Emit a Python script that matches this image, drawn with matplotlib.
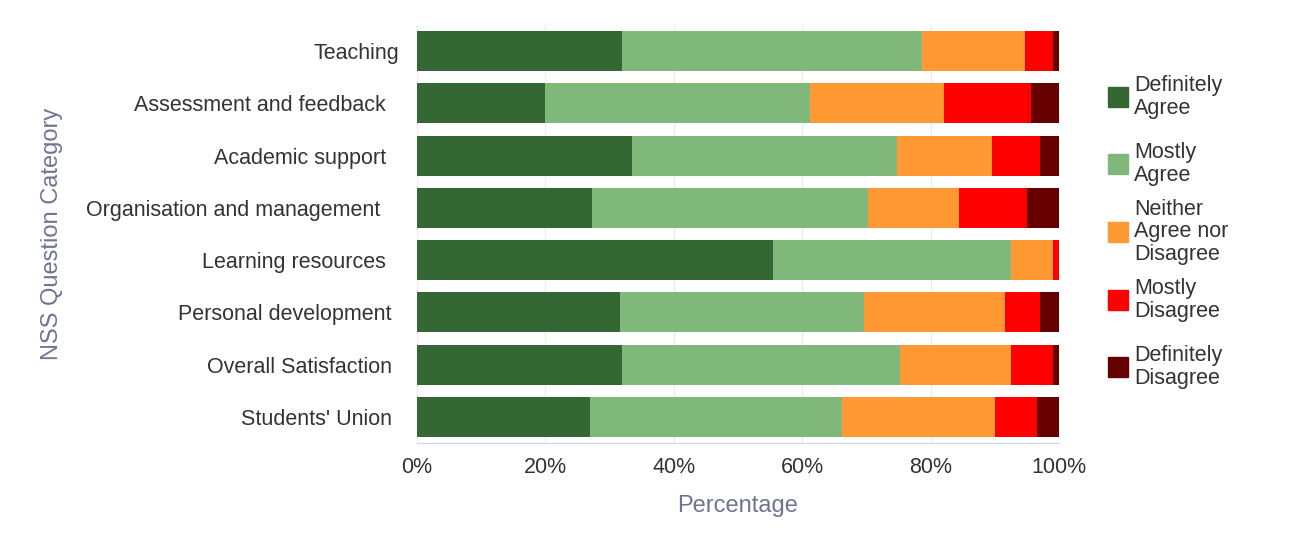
import matplotlib
matplotlib.use("Agg")
import matplotlib.pyplot as plt
from matplotlib.patches import Rectangle
from matplotlib.transforms import ScaledTranslation

categories = ["Teaching", "Assessment and feedback ", "Academic support ",
              "Organisation and management  ", "Learning resources ",
              "Personal development", "Overall Satisfaction", "Students' Union"]
series_names = ["Definitely\nAgree", "Mostly\nAgree", "Neither\nAgree nor\nDisagree",
                "Mostly\nDisagree", "Definitely\nDisagree"]
definitely_agree = [31.9, 19.9, 33.5, 27.3, 55.5, 31.6, 31.9, 27.0]
mostly_agree = [46.8, 41.3, 41.3, 42.9, 37.1, 38.0, 43.3, 39.2]
neither = [16.0, 20.9, 14.7, 14.3, 6.4, 22.0, 17.4, 23.9]
mostly_disagree = [4.4, 13.6, 7.6, 10.5, 1.0, 5.5, 6.4, 6.5]
definitely_disagree = [0.9, 4.3, 2.9, 5.0, 0.0, 2.9, 1.0, 3.4]
colors = ["#346733", "#80b77a", "#ff9933", "#ff0000", "#660000"]
xticks = [0, 20, 40, 60, 80, 100]
xticklabels = ["0%", "20%", "40%", "60%", "80%", "100%"]

series = [definitely_agree, mostly_agree, neither, mostly_disagree, definitely_disagree]

plt.rcParams['font.family'] = ['Liberation Sans', 'DejaVu Sans']
W, H = 1294, 546
fig = plt.figure(figsize=(W / 100, H / 100), dpi=100)
ax = fig.add_axes([417 / W, 1 - 443 / H, (1059 - 417) / W, (443 - 25) / H])

y = list(range(len(categories)))
left = [0.0] * len(categories)
for vals, col, name in zip(series, colors, series_names):
    ax.barh(y, vals, left=left, height=0.765, color=col, label=name, zorder=3)
    left = [l + v for l, v in zip(left, vals)]

ax.set_xlim(0, 100)
ax.set_ylim(len(categories) - 0.5, -0.5)
ax.set_yticks(y)
ax.set_yticklabels(categories, fontsize=15.5, color="#333333")
ax.set_xticks(xticks)
ax.set_xticklabels(xticklabels, fontsize=15.5, color="#333333")
ax.tick_params(axis='both', length=0)
ax.tick_params(axis='x', pad=10)
ax.tick_params(axis='y', pad=18)
# first label sits a little further right in the reference
lab0 = ax.get_yticklabels()[0]
lab0.set_transform(lab0.get_transform() + ScaledTranslation(7 / 100, 0, fig.dpi_scale_trans))
ax.grid(axis='x', color="#ececec", linewidth=1, zorder=0)
for s in ["top", "right", "left"]:
    ax.spines[s].set_visible(False)
ax.spines["bottom"].set_color("#ccd6eb")
ax.set_xlabel("Percentage", fontsize=17, color="#6e7591", labelpad=12)
ax.set_ylabel("NSS Question Category", fontsize=17, color="#6e7591")
ax.yaxis.set_label_coords((63 - 417) / (1059 - 417), 0.5)

# legend, drawn item by item
centers = [97, 164, 232, 300, 367]
for name, col, cy in zip(series_names, colors, centers):
    fig.patches.append(Rectangle((1108 / W, 1 - (cy + 10) / H), 20 / W, 20 / H,
                                 transform=fig.transFigure, color=col, figure=fig))
    fig.text(1134 / W, 1 - cy / H, name, fontsize=15.5, color="#333333",
             va="center", ha="left", linespacing=1.12)

fig.savefig("out.png", dpi=100, facecolor="white")
